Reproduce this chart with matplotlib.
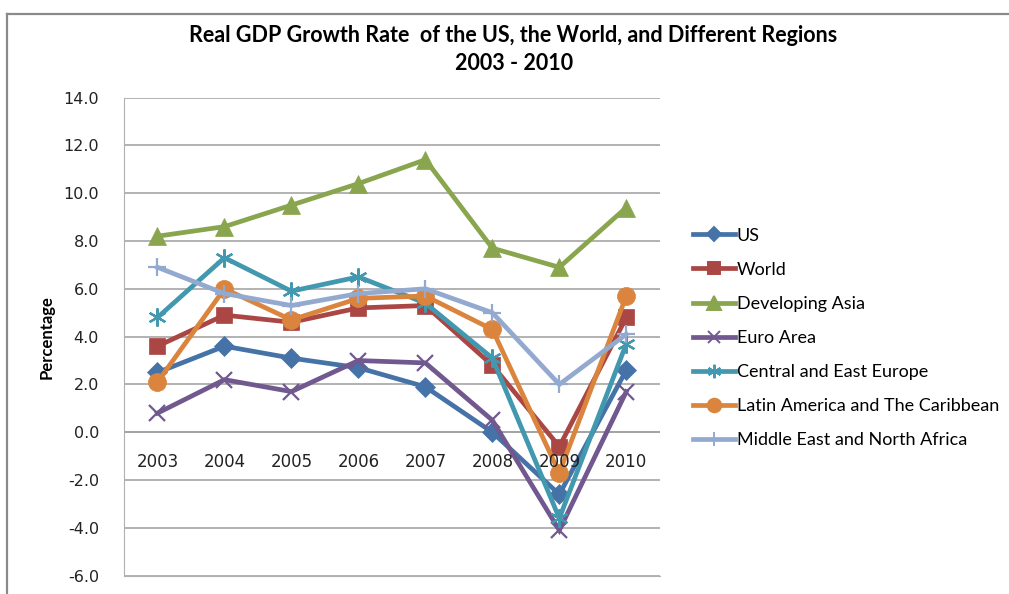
import matplotlib.pyplot as plt
from matplotlib.lines import Line2D
from matplotlib.transforms import offset_copy

years = ['2003', '2004', '2005', '2006', '2007', '2008', '2009', '2010']

us = [2.5, 3.6, 3.1, 2.7, 1.9, 0.0, -2.6, 2.6]
world = [3.6, 4.9, 4.6, 5.2, 5.3, 2.8, -0.6, 4.8]
dev_asia = [8.2, 8.6, 9.5, 10.4, 11.4, 7.7, 6.9, 9.4]
euro = [0.8, 2.2, 1.7, 3.0, 2.9, 0.5, -4.1, 1.7]
ce_europe = [4.8, 7.3, 5.9, 6.5, 5.4, 3.1, -3.6, 3.7]
latin = [2.1, 6.0, 4.7, 5.6, 5.7, 4.3, -1.7, 5.7]
mena = [6.9, 5.8, 5.3, 5.8, 6.0, 5.0, 2.0, 4.1]

series = [
    ('US', us, '#4572A7', 'D', 10),
    ('World', world, '#AA4643', 's', 12),
    ('Developing Asia', dev_asia, '#89A54E', '^', 13),
    ('Euro Area', euro, '#71588F', 'x', 12),
    ('Central and East Europe', ce_europe, '#4198AF', (6, 2, 0), 13),
    ('Latin America and The Caribbean', latin, '#DB843D', 'o', 13),
    ('Middle East and North Africa', mena, '#93A9CF', '+', 13),
]

title_font = ['Lato', 'DejaVu Sans']
text_font = ['Lato', 'DejaVu Sans']

fig = plt.figure(figsize=(10.09, 5.94), dpi=100)
ax = fig.add_axes([0.1229, 0.0308, 0.531, 0.805])

x = list(range(len(years)))
for name, vals, col, mk, ms in series:
    ax.plot(x, vals, color=col, linewidth=3.4, marker=mk, markersize=ms,
            markeredgewidth=1.6 if mk in ('x', '+', (6, 2, 0)) else 0.5,
            markeredgecolor=col, label=name, solid_joinstyle='miter')

ax.set_xlim(-0.5, 7.5)
ax.set_ylim(-6, 14)
ax.set_yticks(range(-6, 15, 2))
ax.set_yticklabels(['%.1f' % v for v in range(-6, 15, 2)], fontsize=11.5,
                   family='DejaVu Sans')
ax.tick_params(axis='y', length=0, pad=18, colors='#222222')
ax.set_xticks([])
ax.grid(axis='y', color='#a6a6a6', linewidth=1.2)
ax.set_axisbelow(True)
for s in ['top', 'right']:
    ax.spines[s].set_visible(False)
ax.spines['left'].set_color('#b0b0b0')
ax.spines['bottom'].set_color('#b0b0b0')
ax.axhline(0, color='#8c8c8c', linewidth=1.2, zorder=0)

trans = offset_copy(ax.transData, fig=fig, y=-30, units='dots')
for i, yr in enumerate(years):
    ax.text(i, 0, yr, transform=trans, ha='center', va='center',
            fontsize=12, family='DejaVu Sans', color='#222222')

ax.set_ylabel('Percentage', fontsize=12, fontweight='bold',
              family=text_font, labelpad=6)

fig.text(0.509, 0.940, 'Real GDP Growth Rate  of the US, the World, and Different Regions',
         ha='center', va='center', fontsize=15.5, fontweight='bold', family=title_font)
fig.text(0.509, 0.893, '2003 - 2010', ha='center', va='center',
         fontsize=15.5, fontweight='bold', family=title_font)

handles = [Line2D([], [], color=c, linewidth=3.4, marker=m, markersize=ms * 0.75,
                  markeredgewidth=1.4, markeredgecolor=c)
           for _, _, c, m, ms in series]
fig.legend(handles, [s[0] for s in series], loc='upper left',
           bbox_to_anchor=(0.671, 0.644), frameon=False,
           prop={'family': text_font, 'size': 13},
           handlelength=2.3, handletextpad=0.1, labelspacing=1.0)

# outer chart frame
fig.add_artist(Line2D([7 / 1009, 7 / 1009], [0, 1 - 14 / 594],
                      color='#8a8a8a', linewidth=1.6))
fig.add_artist(Line2D([7 / 1009, 1], [1 - 14 / 594, 1 - 14 / 594],
                      color='#8a8a8a', linewidth=1.6))

fig.savefig('out.png', dpi=100)
